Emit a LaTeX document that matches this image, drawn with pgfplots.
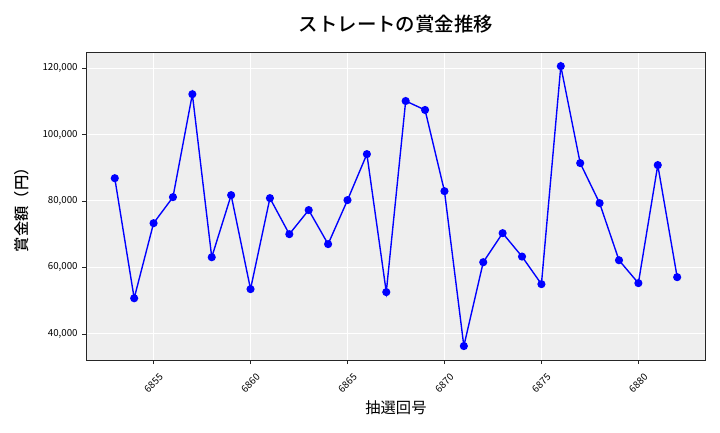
\documentclass[border=0pt]{standalone}
\usepackage{fontspec}
\setmainfont{Noto Sans CJK JP}
\newfontfamily\medfont{Noto Sans CJK JP Medium}
\usepackage{pgfplots}
\pgfplotsset{compat=1.18}
\definecolor{panel}{RGB}{238,238,238}
\begin{document}
\begin{tikzpicture}
\path[use as bounding box] (-62.4pt,-51.84pt) rectangle (456.0pt,259.2pt);
\begin{axis}[
    at={(0,0)}, anchor=south west,
    width=445.4pt, height=221.5pt, scale only axis,
    xmin=6851.55, xmax=6883.45,
    ymin=32100, ymax=124750,
    axis background/.style={fill=panel},
    axis line style={black!85},
    grid=major, grid style={white, line width=0.7pt},
    tick align=outside, tick style={black!85},
    xtick pos=bottom, ytick pos=left,
    major tick length=3pt,
    xtick={6855,6860,6865,6870,6875,6880},
    xticklabels={6855,6860,6865,6870,6875,6880},
    ytick={40000,60000,80000,100000,120000},
    yticklabels={{40,000},{60,000},{80,000},{100,000},{120,000}},
    scaled y ticks=false,
    xticklabel style={font=\fontsize{7}{8}\selectfont, rotate=45, anchor=center, xshift=-9.6pt, yshift=-9.6pt},
    yticklabel style={font=\fontsize{7}{8}\selectfont},
    title={ストレートの賞金推移},
    title style={font=\fontsize{14}{16}\selectfont\medfont, at={(axis description cs:0.5,1)}, anchor=center, yshift=14pt},
    xlabel={抽選回号},
    xlabel style={font=\fontsize{11}{13}\selectfont, at={(axis description cs:0.5,0)}, anchor=center, yshift=-34pt},
    ylabel={賞金額（円）},
    ylabel style={font=\fontsize{11}{13}\selectfont\medfont, at={(axis description cs:-0.105,0.5)}, anchor=center},
]
\addplot[color=blue, line width=1pt, mark=*, mark size=2.4pt, mark options={fill=blue, draw=blue}]
coordinates {
(6853,86850) (6854,50700) (6855,73300) (6856,81150) (6857,112150)
(6858,63050) (6859,81750) (6860,53450) (6861,80850) (6862,70000)
(6863,77250) (6864,67000) (6865,80250) (6866,94100) (6867,52550)
(6868,110100) (6869,107400) (6870,82950) (6871,36300) (6872,61550)
(6873,70300) (6874,63250) (6875,54950) (6876,120600) (6877,91400)
(6878,79350) (6879,62150) (6880,55250) (6881,90800) (6882,57050)
};
\end{axis}
\end{tikzpicture}
\end{document}
